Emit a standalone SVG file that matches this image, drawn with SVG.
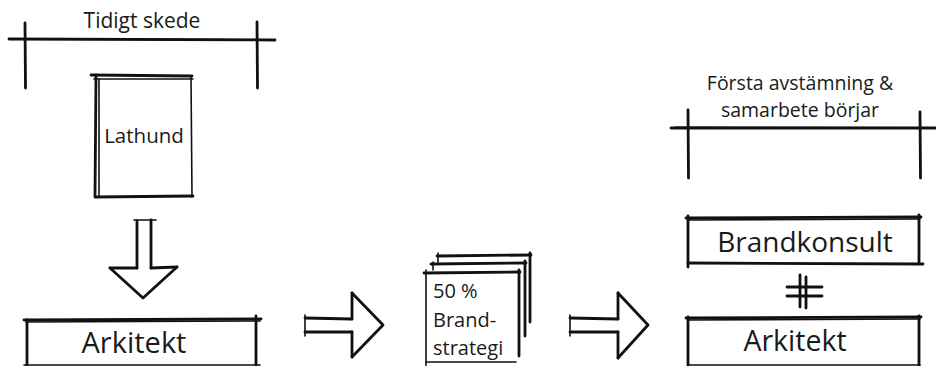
<svg xmlns="http://www.w3.org/2000/svg" width="936" height="366" viewBox="0 0 936 366">
<style>
.s{fill:none;stroke:#111;stroke-linecap:round;stroke-linejoin:round}
.t{stroke-width:2.8}
.m{stroke-width:1.6}
.h{stroke-width:1}
.lbl{font-family:"Open Sans","Noto Sans",sans-serif;fill:#1a1a1a}
</style>
<rect width="936" height="366" fill="#fff"/>
<g id="dim-tidigt">
<path class="s t" d="M9 39 L275 40"/>
<path class="s h" d="M12 38.5 L270 39.5"/>
<path class="s t" d="M25 23 L25.5 88"/>
<path class="s t" d="M257 22 L257.5 88"/>
<text class="lbl" x="142" y="28" font-size="21" text-anchor="middle">Tidigt skede</text>
</g>
<g id="lathund">
<path class="s t" d="M91 75 L192 76"/>
<path class="s m" d="M94 79 L193 79"/>
<path class="s t" d="M96 75 L95 197 L193 196"/>
<path class="s m" d="M99 79 L99 196"/>
<path class="s m" d="M191 76 L192 197"/>
<text class="lbl" x="144" y="143" font-size="20.5" text-anchor="middle">Lathund</text>
</g>
<g id="arkitekt-1">
<path class="s t" d="M24 320 L261 319"/>
<path class="s m" d="M26 322 L260 321"/>
<path class="s t" d="M27 320 L27 366"/>
<path class="s t" d="M256 316 L256 366"/>
<path class="s m" d="M24 365 L260 365"/>
<text class="lbl" x="134" y="353" font-size="29" text-anchor="middle">Arkitekt</text>
</g>
<g id="stack">
<path class="s t" d="M437 256 L531 255"/>
<path class="s t" d="M530 253 L530 322"/>
<path class="s t" d="M431 264 L526 263"/>
<path class="s t" d="M525 261 L525 336"/>
<path class="s t" d="M424 273 L520 272"/>
<path class="s t" d="M519 270 L519 356"/>
<path class="s m" d="M426 270 L426 366"/>
<path class="s m" d="M426 362 L516 362"/>
<path class="s m" d="M433 262 L433 270"/>
<path class="s m" d="M438 253 L438 262"/>
<text class="lbl" font-size="20"><tspan x="433" y="298">50 %</tspan><tspan x="433" y="327">Brand-</tspan><tspan x="433" y="355">strategi</tspan></text>
</g>
<g id="dim-forsta">
<path class="s t" d="M671 128 L936 128"/>
<path class="s h" d="M675 127 L930 127.5"/>
<path class="s t" d="M688 110 L688.5 178"/>
<path class="s t" d="M920 112 L920.5 178"/>
<text class="lbl" font-size="19.5" text-anchor="middle"><tspan x="800" y="90">Första avstämning &amp;</tspan><tspan x="800" y="117">samarbete börjar</tspan></text>
</g>
<g id="brandkonsult">
<path class="s t" d="M686 218 L921 217"/>
<path class="s m" d="M688 220 L920 219"/>
<path class="s t" d="M688 216 L688 267"/>
<path class="s t" d="M919 215 L919 263"/>
<path class="s t" d="M688 263 L923 264"/>
<text class="lbl" x="805" y="252" font-size="28" text-anchor="middle">Brandkonsult</text>
</g>
<g id="arkitekt-2">
<path class="s t" d="M686 318 L921 317"/>
<path class="s m" d="M688 320 L920 319"/>
<path class="s t" d="M688 317 L688 366"/>
<path class="s t" d="M919 316 L919 366"/>
<path class="s m" d="M688 365 L920 365"/>
<text class="lbl" x="795" y="351" font-size="28.5" text-anchor="middle">Arkitekt</text>
</g>
<g id="connectors">
<g id="down-arrow">
<path class="s t" d="M137 221 L137 268"/>
<path class="s t" d="M151 220 L151 268"/>
<path class="s m" d="M134 220 L156 220"/>
<path class="s t" d="M110 268 L137 268"/>
<path class="s t" d="M151 268 L177 267"/>
<path class="s t" d="M110 268 L143 298 L177 267"/>
</g>
<g id="arrow-1">
<path class="s t" d="M305 318 L352 319"/>
<path class="s t" d="M305 332 L352 332"/>
<path class="s m" d="M305 315 L305 336"/>
<path class="s t" d="M352 293 L352 319"/>
<path class="s t" d="M352 332 L352 357"/>
<path class="s t" d="M352 293 L383 325 L352 357"/>
</g>
<g id="arrow-2">
<path class="s t" d="M570 318 L618 319"/>
<path class="s t" d="M570 332 L618 332"/>
<path class="s m" d="M570 315 L570 336"/>
<path class="s t" d="M618 293 L618 319"/>
<path class="s t" d="M618 332 L618 358"/>
<path class="s t" d="M618 293 L648 325 L618 358"/>
</g>
<g id="equal-sign">
<path class="s t" d="M800 275 L800 307"/>
<path class="s t" d="M806 277 L806 308"/>
<path class="s t" d="M787 287 L822 287"/>
<path class="s t" d="M787 296 L822 296"/>
</g>
</g>
</svg>
